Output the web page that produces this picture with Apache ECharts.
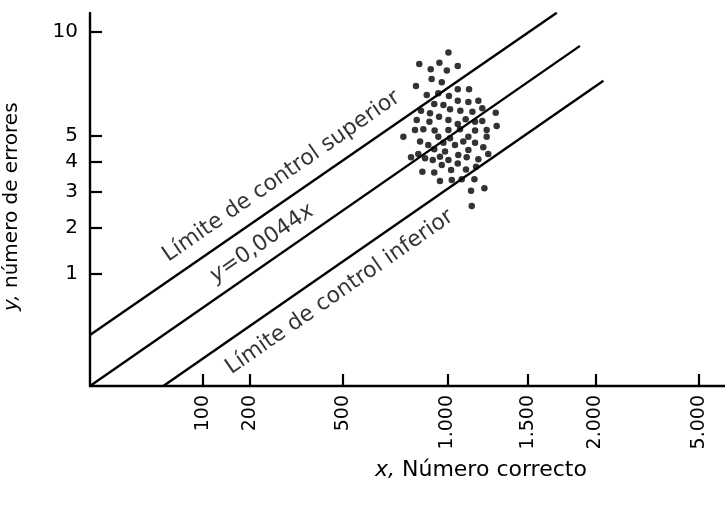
<!DOCTYPE html>
<html>
<head>
<meta charset="utf-8">
<script src="https://cdn.jsdelivr.net/npm/echarts@6/dist/echarts.min.js"></script>
<style>
html,body{margin:0;padding:0;background:#fff;}
#chart{width:725px;height:506px;}
</style>
</head>
<body>
<div id="chart"></div>
<script>
// ---- data (original units) ----
const xTickValues = [100, 200, 500, 1000, 1500, 2000, 5000];
const xTickLabels = ['100', '200', '500', '1.000', '1.500', '2.000', '5.000'];
const yTickValues = [1, 2, 3, 4, 5, 10];
const yTickLabels = ['1', '2', '3', '4', '5', '10'];

const dotsX = [1006, 849, 956, 1059, 909, 997, 914, 969, 832, 1059, 1125, 888, 950, 1009, 1059, 1121, 1181, 928, 978, 1015,
  1074, 1145, 1205, 858, 905, 1289, 836, 902, 954, 1006, 1059, 1105, 1161, 1205, 1295,
  827, 870, 930, 1006, 1072, 1161, 1232,
  769, 853, 896, 950, 978, 1015, 1043, 1091, 1121, 1161, 1232, 928, 987, 1062, 1121, 1211, 807, 844, 879, 920,
  959, 1006, 1059, 1111, 1181, 1242, 969, 1021, 1107, 1167, 865, 928, 959, 1025, 1082, 1157, 1137, 1218, 1141];
const dotsY = [8.86, 8.27, 8.33, 8.16, 8.00, 7.93, 7.51, 7.35, 7.17, 7.02, 7.02, 6.75, 6.83, 6.70, 6.49, 6.43, 6.49, 6.34, 6.29, 6.10,
  6.04, 6.00, 6.15, 6.04, 5.93, 5.95, 5.64, 5.57, 5.78, 5.64, 5.47, 5.67, 5.57, 5.60, 5.39,
  5.22, 5.25, 5.20, 5.22, 5.25, 5.20, 5.22,
  4.95, 4.76, 4.63, 4.95, 4.72, 4.89, 4.63, 4.76, 4.95, 4.72, 4.95, 4.47, 4.38, 4.25, 4.44, 4.54, 4.17, 4.29, 4.13, 4.07,
  4.19, 4.07, 3.95, 4.17, 4.10, 4.29, 3.89, 3.72, 3.74, 3.83, 3.66, 3.63, 3.35, 3.38, 3.41, 3.41, 3.04, 3.12, 2.58];

const upperLineX = [0, 1706];
const upperLineY = [0.207, 11.11];
const centerLineX = [0, 1880];
const centerLineY = [0, 9.22];
const lowerLineX = [42.1, 2064];
const lowerLineY = [0, 7.43];

const lineLabels = ['Límite de control superior', '{i|y}=0,0044{i|x}', 'Límite de control inferior'];

// ---- scales (square-root paper, compressed beyond 2.500) ----
const X_BREAK = 2500, X_COMPRESS = 0.188;
function fx(x) {
  return x <= X_BREAK ? Math.sqrt(x) : Math.sqrt(X_BREAK) + (Math.sqrt(x) - Math.sqrt(X_BREAK)) * X_COMPRESS;
}
function fy(y) { return Math.sqrt(y); }
function pts(xs, ys) { return xs.map((x, i) => [fx(x), fy(ys[i])]); }

// label anchors (original units)
const labelAnchors = [[287, 3.50], [232, 1.62], [488, 0.70]];

const FONT = 'DejaVu Sans';
const INK = '#000';
const ANGLE = 34.8;

const chart = echarts.init(document.getElementById('chart'), null, {renderer: 'canvas'});
const lineStyle = {color: INK, width: 2.4};

chart.setOption({
  animation: false,
  backgroundColor: '#fff',
  grid: {left: 90, right: 0, top: 13, bottom: 120, containLabel: false},
  xAxis: {
    type: 'value', min: 0, max: 56.19,
    splitLine: {show: false},
    axisLine: {show: true, lineStyle: {color: INK, width: 2.4}},
    axisTick: {show: true, inside: true, length: 12, lineStyle: {color: INK, width: 2.2},
      customValues: xTickValues.map(fx)},
    axisLabel: {
      show: true, rotate: 90, margin: 9, fontFamily: FONT, fontSize: 19, color: INK,
      customValues: xTickValues.map(fx),
      formatter: function (v) {
        for (let i = 0; i < xTickValues.length; i++) if (Math.abs(fx(xTickValues[i]) - v) < 1e-6) return xTickLabels[i];
        return '';
      }
    }
  },
  yAxis: {
    type: 'value', min: 0, max: 3.33,
    splitLine: {show: false},
    axisLine: {show: true, lineStyle: {color: INK, width: 2.4}},
    axisTick: {show: true, inside: true, length: 12, lineStyle: {color: INK, width: 2.2},
      customValues: yTickValues.map(fy)},
    axisLabel: {
      show: true, margin: 12, fontFamily: FONT, fontSize: 20, color: INK,
      customValues: yTickValues.map(fy),
      formatter: function (v) {
        for (let i = 0; i < yTickValues.length; i++) if (Math.abs(fy(yTickValues[i]) - v) < 1e-6) return yTickLabels[i];
        return '';
      }
    }
  },
  series: [
    {type: 'line', data: pts(upperLineX, upperLineY), symbol: 'none', lineStyle: lineStyle, silent: true},
    {type: 'line', data: pts(centerLineX, centerLineY), symbol: 'none', lineStyle: lineStyle, silent: true},
    {type: 'line', data: pts(lowerLineX, lowerLineY), symbol: 'none', lineStyle: lineStyle, silent: true},
    {type: 'scatter', data: pts(dotsX, dotsY), symbol: 'circle', symbolSize: 6.5,
      itemStyle: {color: INK}, silent: true},
    {type: 'scatter', silent: true, symbolSize: 1, itemStyle: {color: 'rgba(0,0,0,0)'},
      data: labelAnchors.map((a, i) => ({value: [fx(a[0]), fy(a[1])], name: lineLabels[i]})),
      label: {
        show: true, position: 'inside', rotate: ANGLE, align: 'center', verticalAlign: 'middle',
        fontFamily: FONT, fontSize: 22, color: INK,
        formatter: function (p) { return p.name; },
        rich: {i: {fontFamily: FONT, fontSize: 22, fontStyle: 'italic', color: INK}}
      }
    }
  ],
  graphic: [
    {type: 'text', left: 375, top: 459, silent: true,
      style: {text: '{i|x,} Número correcto', font: '22px "DejaVu Sans"', fill: INK,
        rich: {i: {fontStyle: 'italic', fontSize: 22, fontFamily: FONT, fill: INK}}}},
    {type: 'text', x: 2, y: 311, rotation: Math.PI / 2, silent: true,
      style: {text: '{i|y,} número de errores', font: '20px "DejaVu Sans"', fill: INK,
        rich: {i: {fontStyle: 'italic', fontSize: 20, fontFamily: FONT, fill: INK}}}}
  ]
});
</script>
</body>
</html>
